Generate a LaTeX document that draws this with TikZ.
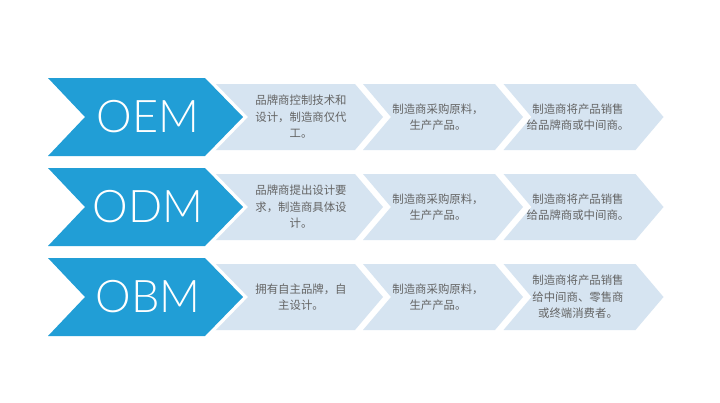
\documentclass[tikz,border=0pt]{standalone}
\usepackage{fontspec}
\newfontfamily\cjk{Noto Sans CJK SC}
\newfontfamily\thinfont{Lato Light}
\definecolor{mainblue}{RGB}{33,158,214}
\definecolor{lightblue}{RGB}{214,228,241}
\definecolor{txtgray}{RGB}{100,100,100}
\begin{document}
\begin{tikzpicture}[x=1pt,y=-1pt,
  desc/.style={font=\cjk\fontsize{11.4}{16.5}\selectfont, text=txtgray, align=center, inner sep=0pt},
  badge/.style={font=\thinfont\fontsize{45}{45}\selectfont, text=white, inner sep=0pt},
  lightchev/.style={fill=lightblue},
  bluechev/.style={fill=mainblue},
  gapline/.style={draw=white, line width=7pt, line join=miter}]
\useasboundingbox[fill=white] (0,0) rectangle (720,402);
\foreach \yc in {117,207,297}{
  \fill[lightchev] (212,\yc-33) -- (355,\yc-33) -- (383,\yc) -- (355,\yc+33) -- (212,\yc+33) -- cycle;
  \foreach \k in {0,1}{
    \fill[lightchev, xshift=\k*140.5] (363,\yc-33) -- (495,\yc-33) -- (523,\yc) -- (495,\yc+33) -- (363,\yc+33) -- (391,\yc) -- cycle;
  }
  \draw[gapline] (48,\yc-39) -- (205,\yc-39) -- (243,\yc) -- (205,\yc+39) -- (48,\yc+39) -- (85,\yc) -- cycle;
  \fill[bluechev] (48,\yc-39) -- (205,\yc-39) -- (243,\yc) -- (205,\yc+39) -- (48,\yc+39) -- (85,\yc) -- cycle;
}
\node[badge] (oem) at (148,117) {OEM};
\node[badge] (odm) at (148,207) {ODM};
\node[badge] (obm) at (148,297) {OBM};
\node[desc] (t11) at (301,117) {品牌商控制技术和\\设计，制造商仅代\\工。};
\node[desc] (t12) at (438,117) {制造商采购原料，\\生产产品。};
\node[desc] (t13) at (578,117) {制造商将产品销售\\给品牌商或中间商。};
\node[desc] (t21) at (301,207) {品牌商提出设计要\\求，制造商具体设\\计。};
\node[desc] (t22) at (438,207) {制造商采购原料，\\生产产品。};
\node[desc] (t23) at (578,207) {制造商将产品销售\\给品牌商或中间商。};
\node[desc] (t31) at (301,297) {拥有自主品牌，自\\主设计。};
\node[desc] (t32) at (438,297) {制造商采购原料，\\生产产品。};
\node[desc] (t33) at (578,297) {制造商将产品销售\\给中间商、零售商\\或终端消费者。};
\end{tikzpicture}
\end{document}
